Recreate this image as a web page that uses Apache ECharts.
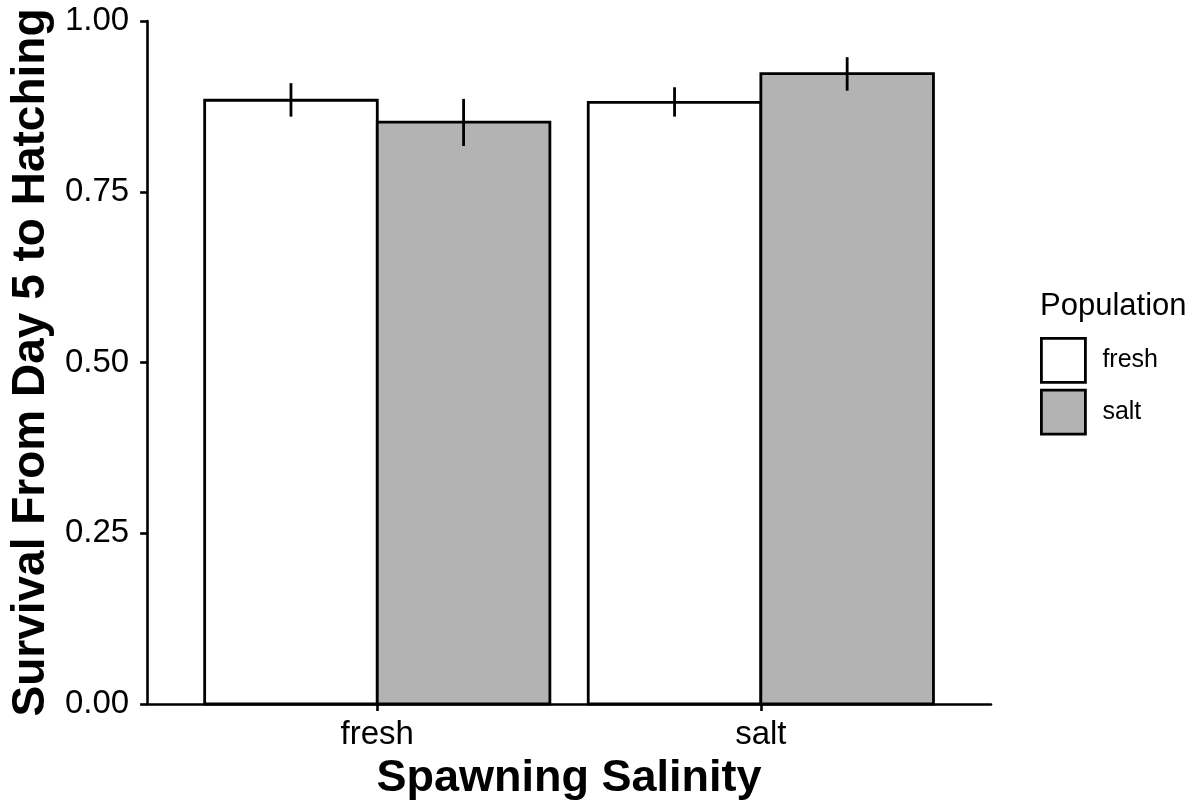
<!DOCTYPE html>
<html>
<head>
<meta charset="utf-8">
<script src="https://cdn.jsdelivr.net/npm/echarts@6/dist/echarts.min.js"></script>
<style>
  html, body { margin: 0; padding: 0; background: #fff; }
  #chart { width: 1196px; height: 808px; }
</style>
</head>
<body>
<div id="chart"></div>
<script>
// Survival from day 5 to hatching, by spawning salinity and population
const salinity = ['fresh', 'salt'];
const populations = ['fresh', 'salt'];

const freshPopMean = [0.884, 0.881];
const freshPopLow  = [0.860, 0.860];
const freshPopHigh = [0.909, 0.903];

const saltPopMean = [0.852, 0.923];
const saltPopLow  = [0.817, 0.898];
const saltPopHigh = [0.886, 0.947];

const yTicks = [0, 0.25, 0.5, 0.75, 1.0];

const FONT = 'Liberation Sans, Arial, Helvetica, sans-serif';
const DODGE = 0.45;   // half of the dodged group width
const BAR_W = 0.45;   // bar width in category units

function rows(mean, low, high) {
  return salinity.map((s, i) => [i + 1, mean[i], low[i], high[i]]);
}

function makeRender(offset, fill) {
  return function (params, api) {
    const xc = api.value(0) + offset;
    const mean = api.value(1);
    const lo = api.value(2);
    const hi = api.value(3);
    const tl = api.coord([xc - BAR_W / 2, mean]);
    const br = api.coord([xc + BAR_W / 2, 0]);
    const eTop = api.coord([xc, hi]);
    const eBot = api.coord([xc, lo]);
    return {
      type: 'group',
      children: [
        {
          type: 'rect',
          shape: { x: tl[0], y: tl[1], width: br[0] - tl[0], height: br[1] - tl[1] },
          style: { fill: fill, stroke: '#000', lineWidth: 2.8 }
        },
        {
          type: 'line',
          shape: { x1: eTop[0], y1: eTop[1], x2: eBot[0], y2: eBot[1] },
          style: { stroke: '#000', lineWidth: 2.8 }
        }
      ]
    };
  };
}

const chart = echarts.init(document.getElementById('chart'), null, { renderer: 'canvas' });

chart.setOption({
  animation: false,
  backgroundColor: '#fff',
  textStyle: { fontFamily: FONT },
  grid: { left: 146, right: 205, top: 21, bottom: 104, containLabel: false },
  xAxis: {
    type: 'value',
    min: 0.4,
    max: 2.6,
    name: 'Spawning Salinity',
    nameLocation: 'middle',
    nameGap: 52,
    nameTextStyle: { fontFamily: FONT, fontSize: 45, fontWeight: 'bold', color: '#000' },
    splitLine: { show: false },
    axisLine: { show: true, onZero: false, lineStyle: { color: '#000', width: 2.6 } },
    axisTick: { show: true, length: 7, lineStyle: { color: '#000', width: 2.6 }, customValues: [1, 2] },
    axisLabel: {
      customValues: [1, 2],
      margin: 14,
      fontFamily: FONT,
      fontSize: 33,
      color: '#000',
      formatter: v => salinity[Math.round(v) - 1] || ''
    }
  },
  yAxis: {
    type: 'value',
    min: 0,
    max: 1,
    interval: 0.25,
    name: 'Survival From Day 5 to Hatching',
    nameLocation: 'middle',
    nameGap: 90,
    nameRotate: 90,
    nameTextStyle: { fontFamily: FONT, fontSize: 46, fontWeight: 'bold', color: '#000' },
    splitLine: { show: false },
    axisLine: { show: true, lineStyle: { color: '#000', width: 2.6 } },
    axisTick: { show: true, length: 7, lineStyle: { color: '#000', width: 2.6 } },
    axisLabel: {
      margin: 18,
      fontFamily: FONT,
      fontSize: 33,
      color: '#000',
      formatter: v => (yTicks.indexOf(v) >= 0 ? v.toFixed(2) : '')
    }
  },
  legend: {
    orient: 'vertical',
    left: 1040,
    top: 337,
    padding: 0,
    itemWidth: 44,
    itemHeight: 44,
    itemGap: 5,
    icon: 'rect',
    textStyle: { fontFamily: FONT, fontSize: 25, color: '#000', padding: [0, 0, 0, 12] },
    data: [
      { name: populations[0], itemStyle: { color: '#ffffff', borderColor: '#000', borderWidth: 2.8 } },
      { name: populations[1], itemStyle: { color: '#b3b3b3', borderColor: '#000', borderWidth: 2.8 } }
    ]
  },
  graphic: [
    {
      type: 'text',
      left: 1040,
      top: 291,
      style: { text: 'Population', fontFamily: FONT, fontSize: 31, fill: '#000' }
    }
  ],
  series: [
    {
      name: populations[0],
      type: 'custom',
      itemStyle: { color: '#ffffff', borderColor: '#000' },
      renderItem: makeRender(-DODGE / 2, '#ffffff'),
      encode: { x: 0, y: [1, 2, 3] },
      data: rows(freshPopMean, freshPopLow, freshPopHigh)
    },
    {
      name: populations[1],
      type: 'custom',
      itemStyle: { color: '#b3b3b3', borderColor: '#000' },
      renderItem: makeRender(DODGE / 2, '#b3b3b3'),
      encode: { x: 0, y: [1, 2, 3] },
      data: rows(saltPopMean, saltPopLow, saltPopHigh)
    }
  ]
});
</script>
</body>
</html>
